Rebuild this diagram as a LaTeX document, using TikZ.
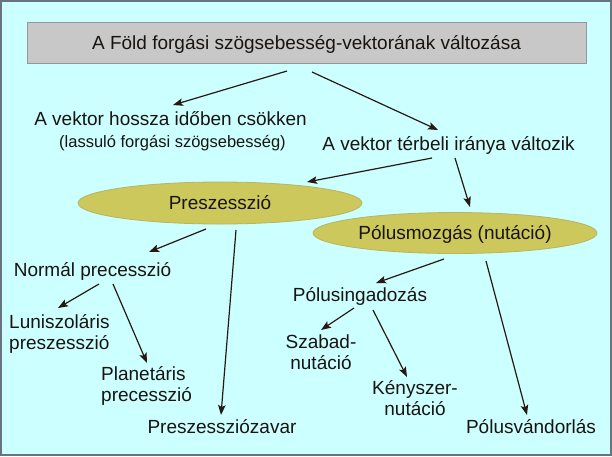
\documentclass[tikz,border=0pt]{standalone}
\usepackage{fontspec}
\setmainfont{Liberation Sans}
\usetikzlibrary{arrows.meta,shapes.geometric,calc}
\definecolor{bgc}{RGB}{204,255,255}
\definecolor{framec}{RGB}{105,115,125}
\definecolor{titlefill}{RGB}{200,200,200}
\definecolor{titleline}{RGB}{150,150,150}
\definecolor{ellfill}{RGB}{204,200,92}
\definecolor{ellline}{RGB}{185,180,95}
\definecolor{txt}{RGB}{25,20,15}
\definecolor{arrc}{RGB}{40,25,15}
\tikzset{
  lbl/.style={inner sep=0pt, text=txt, font=\fontsize{19}{21.5}\selectfont, text height=13.6pt, text depth=0pt},
  mlbl/.style={inner sep=0pt, text=txt, font=\fontsize{19}{21.5}\selectfont},
  small/.style={inner sep=0pt, text=txt, font=\fontsize{16.5}{19}\selectfont, text height=11.8pt, text depth=0pt},
  ell/.style={ellipse, draw=ellline, line width=0.8pt, fill=ellfill, inner sep=0pt, text=txt, font=\fontsize{19}{21.5}\selectfont, text height=13.6pt, text depth=0pt},
  arr/.style={draw=arrc, line width=1.2pt, -{Stealth[length=10pt,width=7.5pt,inset=2pt]}}
}
\begin{document}
\begin{tikzpicture}[x=1pt,y=-1pt]
\useasboundingbox (0,0) rectangle (612,456);
\fill[bgc] (0,0) rectangle (612,456);
\draw[framec, line width=2pt] (1,1) rectangle (611,455);

\node[lbl, rectangle, draw=titleline, line width=0.8pt, fill=titlefill, minimum width=559pt, minimum height=41pt] (title) at (306.5,42.5) {A Föld forgási szögsebesség-vektorának változása};

\node[lbl] (hossza) at (170.5,119) {A vektor hossza időben csökken};
\node[small] (lassulo) at (172.5,142) {(lassuló forgási szögsebesség)};
\node[lbl] (terbeli) at (448.5,144) {A vektor térbeli iránya változik};

\node[ell, minimum width=284pt, minimum height=42pt] (presz) at (220,203) {Preszesszió};
\node[ell, minimum width=284pt, minimum height=41pt] (polus) at (455,233) {Pólusmozgás (nutáció)};

\node[lbl] (normal) at (92.5,270) {Normál precesszió};
\node[mlbl, align=left, anchor=base west] (luni) at (9,349.8) {Luniszoláris\\preszesszió};
\node[mlbl, align=left, anchor=base west] (planet) at (101,401.8) {Planetáris\\precesszió};
\node[lbl] (zavar) at (222,427) {Preszessziózavar};

\node[lbl] (ingad) at (360,295) {Pólusingadozás};
\node[mlbl, align=center, anchor=base] (szabad) at (321,369.8) {Szabad-\\nutáció};
\node[mlbl, align=center, anchor=base] (kenyszer) at (415,415.8) {Kényszer-\\nutáció};
\node[lbl] (vandor) at (531,427) {Pólusvándorlás};

\draw[arr] ($(title.center)+(-19.5,28.5)$) -- ($(hossza.center)+(2.5,-14)$);
\draw[arr] ($(title.center)+(5.5,29.5)$) -- ($(terbeli.center)+(-10.5,-14)$);
\draw[arr] ($(terbeli.center)+(-16.5,14)$) -- ($(presz.center)+(87,-21)$);
\draw[arr] ($(terbeli.center)+(6.5,14)$) -- ($(polus.center)+(15,-26)$);
\draw[arr] ($(presz.center)+(-14,26)$) -- ($(normal.center)+(56.5,-18)$);
\draw[arr] ($(presz.center)+(16,27)$) -- ($(zavar.center)+(-1,-12)$);
\draw[arr] ($(normal.center)+(6.5,14)$) -- ($(luni.base west)+(49,-41.8)$);
\draw[arr] ($(normal.center)+(20.5,14)$) -- ($(planet.base west)+(46,-38.8)$);
\draw[arr] ($(polus.center)+(-11,26)$) -- ($(ingad.center)+(16,-12)$);
\draw[arr] ($(polus.center)+(31,28)$) -- ($(vandor.center)+(-4,-12)$);
\draw[arr] ($(ingad.center)+(-6,13)$) -- ($(szabad.base)+(0,-39.8)$);
\draw[arr] ($(ingad.center)+(13,15)$) -- ($(kenyszer.base)+(-8,-38.8)$);
\end{tikzpicture}
\end{document}
